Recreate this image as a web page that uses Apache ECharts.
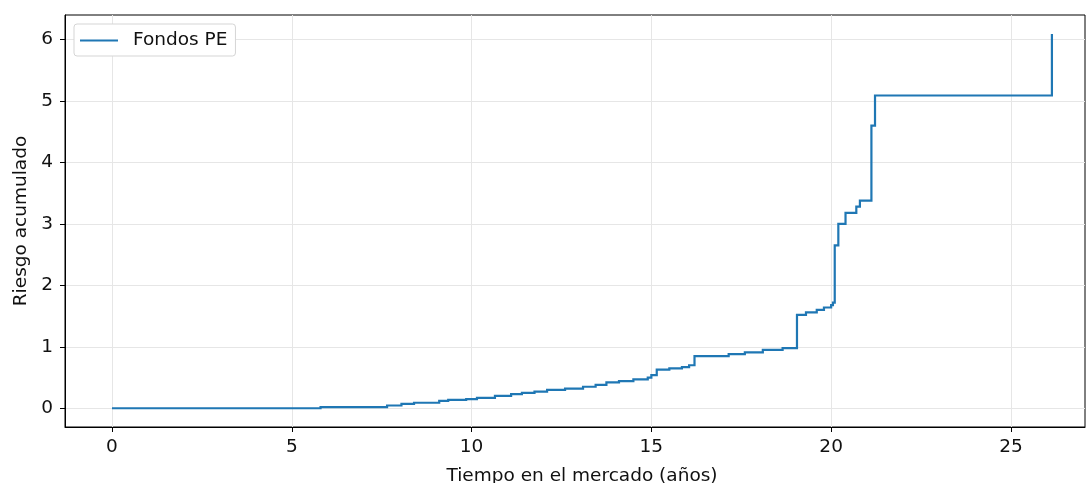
<!DOCTYPE html>
<html>
<head>
<meta charset="utf-8">
<script src="https://cdn.jsdelivr.net/npm/echarts@6/dist/echarts.min.js"></script>
<style>
  html, body { margin: 0; padding: 0; background: #fff; }
  #chart { width: 1086px; height: 483px; }
</style>
</head>
<body>
<div id="chart"></div>
<script>
// Cumulative risk step curve: time at which each step starts (years) and the level it reaches
const stepYears = [
  0, 5.8, 7.65, 8.05, 8.4, 9.1, 9.35, 9.85, 10.15, 10.65, 11.1, 11.4, 11.75,
  12.1, 12.6, 13.1, 13.45, 13.75, 14.1, 14.5, 14.9, 15.0, 15.15, 15.5, 15.85,
  16.05, 16.2, 17.15, 17.6, 18.1, 18.65, 19.05, 19.3, 19.6, 19.8, 20.0, 20.05,
  20.1, 20.2, 20.4, 20.7, 20.8, 21.12, 21.22, 26.14
];
const riskValues = [
  0, 0.02, 0.045, 0.07, 0.09, 0.12, 0.135, 0.15, 0.17, 0.2, 0.23, 0.25, 0.27,
  0.3, 0.32, 0.35, 0.38, 0.42, 0.44, 0.47, 0.5, 0.54, 0.63, 0.65, 0.67,
  0.7, 0.85, 0.88, 0.91, 0.95, 0.98, 1.52, 1.56, 1.6, 1.64, 1.68, 1.72,
  2.65, 3.0, 3.18, 3.28, 3.38, 4.6, 5.09, 6.09
];
const xTicks = [0, 5, 10, 15, 20, 25];
const yTicks = [0, 1, 2, 3, 4, 5, 6];
const seriesName = 'Fondos PE';

// Post-style step path: each level holds until the next step time, then jumps.
const points = [];
stepYears.forEach((t, i) => {
  if (i > 0) points.push([t, riskValues[i - 1]]);
  points.push([t, riskValues[i]]);
});

const FONT = 'DejaVu Sans';
const FS = 18.5;
const LINE_COLOR = '#1f77b4';
const chart = echarts.init(document.getElementById('chart'), null, { renderer: 'canvas' });

chart.setOption({
  animation: false,
  backgroundColor: '#ffffff',
  grid: {
    left: 65, top: 15, bottom: 56, right: 1,
    outerBoundsMode: 'none',
    containLabel: false,
    show: true, borderColor: '#000', borderWidth: 1, backgroundColor: 'transparent'
  },
  legend: {
    left: 74, top: 24,
    padding: [7, 8, 6, 6],
    backgroundColor: '#fff',
    borderColor: '#d5d5d5', borderWidth: 1, borderRadius: 3,
    icon: 'rect', itemWidth: 38, itemHeight: 2,
    itemStyle: { color: LINE_COLOR, borderWidth: 0 },
    lineStyle: { width: 0 },
    textStyle: { fontFamily: FONT, fontSize: FS, color: '#111', padding: [0, 0, 0, 10] },
    data: [seriesName]
  },
  xAxis: {
    type: 'value',
    min: -1.307, max: 27.06,
    name: 'Tiempo en el mercado (años)',
    nameLocation: 'middle', nameGap: 40,
    nameTextStyle: { fontFamily: FONT, fontSize: FS, color: '#111', padding: [0, 0, 0, 14] },
    axisLine: { show: true, onZero: false, lineStyle: { color: '#000', width: 1 } },
    axisTick: { show: true, length: 5, lineStyle: { color: '#000' }, customValues: xTicks },
    axisLabel: { fontFamily: FONT, fontSize: FS, color: '#111', margin: 11, customValues: xTicks },
    splitLine: { show: true, lineStyle: { color: '#e6e6e6', width: 1 } }
  },
  yAxis: {
    type: 'value',
    min: -0.305, max: 6.4,
    name: 'Riesgo acumulado',
    nameLocation: 'middle', nameGap: 34,
    nameTextStyle: { fontFamily: FONT, fontSize: FS, color: '#111' },
    axisLine: { show: true, onZero: false, lineStyle: { color: '#000', width: 1 } },
    axisTick: { show: true, length: 5, lineStyle: { color: '#000' }, customValues: yTicks },
    axisLabel: { fontFamily: FONT, fontSize: FS, color: '#111', margin: 12, customValues: yTicks },
    splitLine: { show: true, lineStyle: { color: '#e6e6e6', width: 1 } }
  },
  series: [{
    name: seriesName,
    type: 'lines',
    coordinateSystem: 'cartesian2d',
    polyline: true,
    silent: true,
    data: [{ coords: points }],
    itemStyle: { color: LINE_COLOR },
    lineStyle: { color: LINE_COLOR, width: 2.2, opacity: 1, curveness: 0 }
  }]
});
</script>
</body>
</html>
